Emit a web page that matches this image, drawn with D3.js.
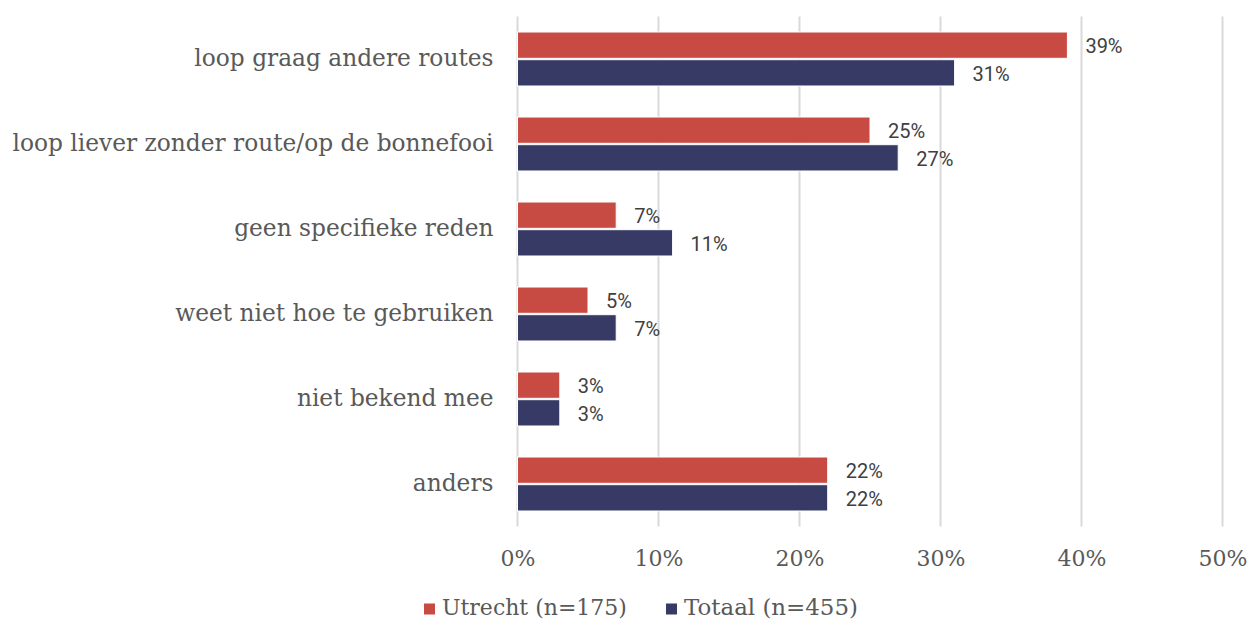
<!DOCTYPE html>
<html>
<head>
    <meta charset="utf-8">
    <title>Redenen</title>
    <script src="https://d3js.org/d3.v7.min.js"></script>
    <style>
        body { margin: 0; background: #fff; }
    </style>
</head>
<body>
<div id="chart"></div>
<script type="text/javascript">
    // data
    let categories = ["loop graag andere routes", "loop liever zonder route/op de bonnefooi",
        "geen specifieke reden", "weet niet hoe te gebruiken", "niet bekend mee", "anders"];
    let utrecht = [39, 25, 7, 5, 3, 22];
    let totaal = [31, 27, 11, 7, 3, 22];
    let seriesNames = ["Utrecht (n=175)", "Totaal (n=455)"];
    let seriesColors = ["#C84B43", "#363A64"];
    let tickValues = [0, 10, 20, 30, 40, 50];

    let width = 1252, height = 622;
    let margin = {top: 16.5, right: 29.5, bottom: 95.5, left: 517.5};
    let w = width - margin.left - margin.right;
    let h = height - margin.top - margin.bottom;

    let svg = d3.select("#chart")
            .append("svg")
                .attr("width", width)
                .attr("height", height)
            .append("g")
                .attr("transform", "translate(" + margin.left + "," + margin.top + ")");

    let xScale = d3.scaleLinear().domain([0, 50]).range([0, w]);

    let yScale = d3.scaleBand()
                    .domain(categories)
                    .range([0, h])
                    .paddingInner(0.365)
                    .paddingOuter(0.1825);

    let inner = d3.scaleBand()
                    .domain([0, 1])
                    .range([0, yScale.bandwidth()])
                    .paddingInner(0.05);

    // gridlines
    svg.append("g")
        .selectAll("line")
        .data(tickValues)
        .enter()
        .append("line")
        .attr("x1", d => xScale(d))
        .attr("x2", d => xScale(d))
        .attr("y1", 0)
        .attr("y2", h)
        .attr("stroke", "#d9d9d9")
        .attr("stroke-width", 2);

    // x axis labels
    let xAxis = d3.axisBottom(xScale)
                    .tickValues(tickValues)
                    .tickSize(0)
                    .tickPadding(0)
                    .tickFormat(d => d + "%");

    let xg = svg.append("g")
        .attr("transform", "translate(0," + (h + 32) + ")")
        .call(xAxis);
    xg.select(".domain").remove();
    xg.selectAll("text")
        .attr("y", 0)
        .attr("dy", "0.35em")
        .attr("font-family", "'DejaVu Serif', serif")
        .attr("font-size", "22px")
        .attr("fill", "#595959");

    // y axis labels
    let yAxis = d3.axisLeft(yScale).tickSize(0).tickPadding(24);
    let yg = svg.append("g").call(yAxis);
    yg.select(".domain").remove();
    yg.selectAll("text")
        .attr("font-family", "'DejaVu Serif', serif")
        .attr("font-size", "23.3px")
        .attr("fill", "#595959");

    // bars
    let series = [utrecht, totaal];
    series.forEach(function(values, s) {
        let g = svg.append("g");
        g.selectAll("rect")
            .data(values)
            .enter()
            .append("rect")
            .attr("x", 0)
            .attr("y", (d, i) => yScale(categories[i]) + inner(s))
            .attr("width", d => xScale(d))
            .attr("height", inner.bandwidth())
            .attr("fill", seriesColors[s])
            .attr("stroke", "#ffffff")
            .attr("stroke-width", 1);

        g.selectAll("text")
            .data(values)
            .enter()
            .append("text")
            .attr("x", d => xScale(d) + 18)
            .attr("y", (d, i) => yScale(categories[i]) + inner(s) + inner.bandwidth() / 2 + 1)
            .attr("dy", "0.35em")
            .attr("font-family", "Roboto, sans-serif")
            .attr("font-size", "20px")
            .attr("fill", "#404040")
            .text(d => d + "%");
    });

    // legend
    let legend = d3.select("svg").append("g")
        .attr("transform", "translate(0,607)");
    let legendX = [424, 666];
    let legendW = [185, 174];
    seriesNames.forEach(function(name, s) {
        legend.append("rect")
            .attr("x", legendX[s])
            .attr("y", -3.5)
            .attr("width", 11)
            .attr("height", 11)
            .attr("fill", seriesColors[s]);
        let t = legend.append("text")
            .attr("x", legendX[s] + 18)
            .attr("y", 0)
            .attr("dy", "0.35em")
            .attr("font-family", "'DejaVu Serif', serif")
            .attr("font-size", "22px")
            .attr("fill", "#595959")
            .text(name);
        // fit the text to the width seen in the picture
        let fs = 22 * legendW[s] / t.node().getComputedTextLength();
        t.attr("font-size", fs + "px");
    });
</script>
</body>
</html>
